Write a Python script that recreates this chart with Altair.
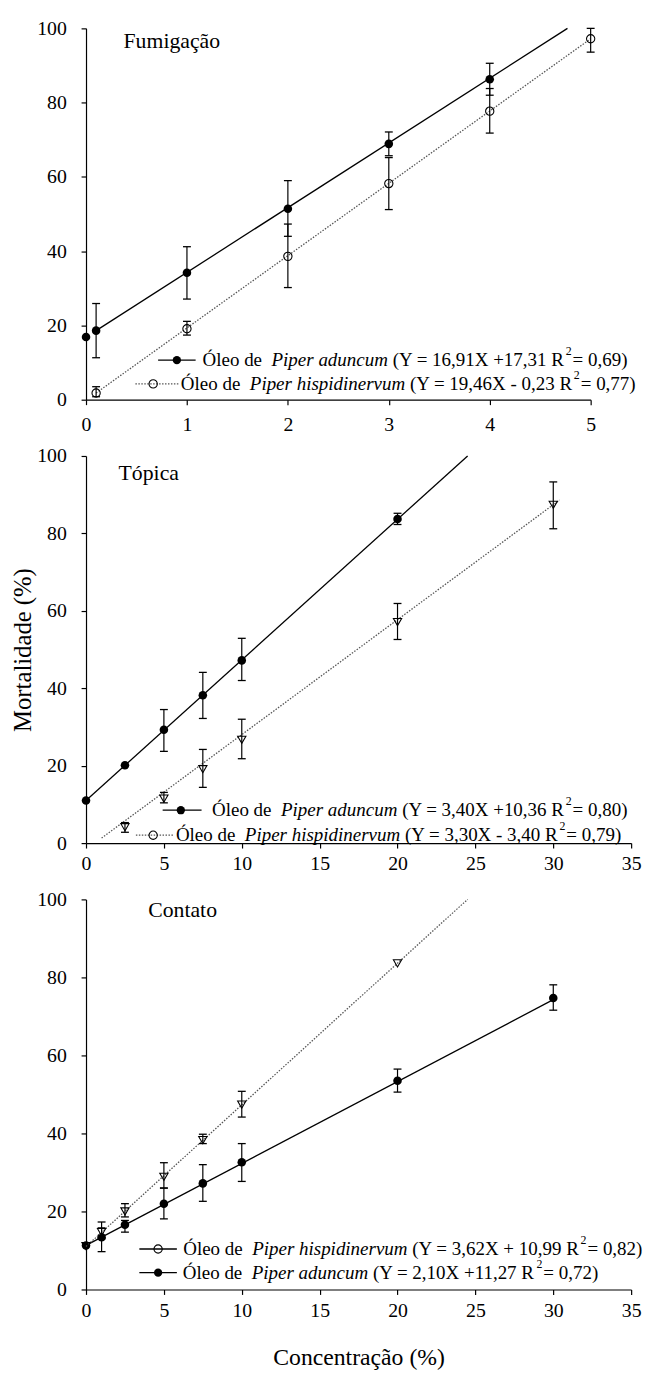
import altair as alt
import pandas as pd

FONT = "Liberation Serif"

# ---------------- data ----------------
# Fumigação
fum_adu_x = [0, 0.1, 1, 2, 3, 4]
fum_adu_y = [16.9, 18.6, 34.2, 51.4, 68.9, 86.3]
fum_adu_lo = [None, 11.3, 27.1, 44.0, 65.7, 82.0]
fum_adu_hi = [None, 25.9, 41.2, 59.0, 72.1, 90.6]
fum_his_x = [0.1, 1, 2, 3, 4, 5]
fum_his_y = [1.8, 19.1, 38.6, 58.2, 77.7, 97.2]
fum_his_lo = [0.8, 17.4, 30.2, 51.2, 71.8, 93.6]
fum_his_hi = [3.5, 21.1, 47.3, 65.2, 83.8, 100.0]
fum_adu_fit_x = [0.1, 4.77]
fum_adu_fit_y = [18.6, 100.0]
fum_his_fit_x = [0.1, 5.0]
fum_his_fit_y = [1.8, 97.2]

# Tópica
top_adu_x = [0, 2.5, 5, 7.5, 10, 20]
top_adu_y = [11.0, 20.1, 29.3, 38.2, 47.2, 83.7]
top_adu_lo = [None, None, 23.7, 32.2, 42.0, 82.3]
top_adu_hi = [None, None, 34.5, 44.1, 52.9, 85.2]
top_his_x = [2.5, 5, 7.5, 10, 20, 30]
top_his_y = [4.1, 11.5, 19.1, 26.7, 57.1, 87.4]
top_his_lo = [2.8, 10.4, 14.4, 21.8, 52.6, 81.2]
top_his_hi = [5.3, 13.1, 24.2, 32.0, 61.9, 93.3]
top_adu_fit_x = [0, 24.5]
top_adu_fit_y = [11.0, 100.0]
top_his_fit_x = [1.0, 30.4]
top_his_fit_y = [1.3, 88.6]

# Contato
con_his_x = [0, 1, 2.5, 5, 7.5, 10, 20]
con_his_y = [11.1, 14.7, 20.0, 28.9, 38.3, 47.4, 83.6]
con_his_lo = [None, 13.0, 18.6, 26.0, 37.4, 44.2, None]
con_his_hi = [None, 17.3, 22.0, 32.5, 39.8, 50.8, None]
con_adu_x = [0, 1, 2.5, 5, 7.5, 10, 20, 30]
con_adu_y = [11.3, 13.4, 16.6, 22.0, 27.2, 32.6, 53.5, 74.7]
con_adu_lo = [None, 9.7, 14.7, 18.1, 22.6, 27.7, 50.6, 71.6]
con_adu_hi = [None, 15.8, 17.7, 26.0, 32.0, 37.4, 56.5, 78.1]
con_his_fit_x = [0, 24.5]
con_his_fit_y = [11.0, 100.0]
con_adu_fit_x = [0, 30]
con_adu_fit_y = [11.3, 74.3]

y_ticks = [0, 20, 40, 60, 80, 100]
x_ticks_fum = [0, 1, 2, 3, 4, 5]
x_ticks_conc = [0, 5, 10, 15, 20, 25, 30, 35]

# ---------------- text width helper (Times metrics) ----------------
REG = {" ": 250, "(": 333, ")": 333, "=": 564, "+": 564, "-": 333, ",": 250,
       "X": 722, "Y": 722, "R": 667, "Ó": 722, "l": 278, "e": 444, "o": 500, "d": 500}
ITA = {"P": 611, "i": 278, "p": 500, "e": 444, "r": 389, " ": 250, "a": 500, "d": 500,
       "u": 500, "n": 500, "c": 444, "m": 722, "h": 500, "s": 389, "v": 444}


def tw(s, table, size):
    return sum(table.get(c, 500) for c in s) / 1000.0 * size


LEG_FS = 19.2
DUMMY = pd.DataFrame({"k": [0]})


def txt(s, x, y, size=LEG_FS, style="normal", align="left"):
    return alt.Chart(DUMMY).mark_text(
        align=align, baseline="middle", font=FONT, fontSize=size,
        fontStyle=style, color="black"
    ).encode(x=alt.value(x), y=alt.value(y), text=alt.value(s))


def legend_entry(ox, oy, y, lx1, lx2, mx, filled, dotted, tx, species, eq, r2):
    y = y - oy
    layers = []
    dash = {"strokeDash": [1.5, 1.5], "color": "#555"} if dotted else {"color": "black"}
    layers.append(alt.Chart(DUMMY).mark_rule(strokeWidth=1.3, **dash).encode(
        x=alt.value(lx1 - ox), x2=alt.value(lx2 - ox), y=alt.value(y)))
    layers.append(alt.Chart(DUMMY).mark_point(
        shape="circle", filled=filled, size=70, color="black", opacity=1, strokeWidth=1.1
    ).encode(x=alt.value(mx - ox), y=alt.value(y)))
    x = tx - ox
    layers.append(txt("Óleo de", x, y))
    x += tw("Óleo de  ", REG, LEG_FS)
    layers.append(txt(species, x, y, style="italic"))
    x += tw(species + " ", ITA, LEG_FS)
    layers.append(txt(eq, x, y))
    x += tw(eq, REG, LEG_FS)
    layers.append(txt("2", x + 1, y - 9, size=12))
    x += 8
    layers.append(txt(r2, x, y))
    return layers


def series(xs_, ys_, lo, hi, fx, fy, shape, filled, dotted, X, Y):
    pts = pd.DataFrame({"x": xs_, "y": ys_})
    err = pd.DataFrame({"x": xs_, "lo": lo, "hi": hi}).dropna()
    fit = pd.DataFrame({"x": fx, "y": fy})
    if dotted:
        line = alt.Chart(fit).mark_line(color="#555", strokeWidth=1.3, strokeDash=[1.5, 1.5])
    else:
        line = alt.Chart(fit).mark_line(color="black", strokeWidth=1.3)
    line = line.encode(x=X(), y=Y("y"))
    rule = alt.Chart(err).mark_rule(color="black", strokeWidth=1.2).encode(
        x=X(), y=Y("lo"), y2="hi")
    caplo = alt.Chart(err).mark_tick(orient="horizontal", size=8, thickness=1.3,
                                     color="black", opacity=1).encode(x=X(), y=Y("lo"))
    caphi = alt.Chart(err).mark_tick(orient="horizontal", size=8, thickness=1.3,
                                     color="black", opacity=1).encode(x=X(), y=Y("hi"))
    point = alt.Chart(pts).mark_point(
        shape=shape, filled=filled, size=75 if filled else 70, color="black",
        opacity=1, strokeWidth=1.1
    ).encode(x=X(), y=Y("y"))
    return [line, rule, caplo, caphi, point]


def make_xy(xmax, xticks, xtitle, ytitle, xlabpad):
    xs = alt.Scale(domain=[0, xmax], nice=False, zero=False)
    ys = alt.Scale(domain=[0, 100], nice=False)
    xax = alt.Axis(values=xticks, labelFlush=False, labelPadding=xlabpad, titlePadding=26,
                   titleFontSize=24)
    yax = alt.Axis(values=y_ticks, labelPadding=15, titlePadding=1)

    def X():
        if xtitle:
            return alt.X("x:Q", scale=xs, axis=xax, title=xtitle)
        return alt.X("x:Q", scale=xs, axis=xax, title=None)

    def Y(field):
        if ytitle:
            return alt.Y(field + ":Q", scale=ys, axis=yax, title=ytitle)
        return alt.Y(field + ":Q", scale=ys, axis=yax, title=None)

    return X, Y


# ---------------- Panel 1: Fumigação ----------------
W1, H1 = 511, 376
X, Y = make_xy(5, x_ticks_fum, None, None, 10)
ox, oy = 87, 20
p1_layers = []
p1_layers += series(fum_adu_x, fum_adu_y, fum_adu_lo, fum_adu_hi, fum_adu_fit_x, fum_adu_fit_y,
                    "circle", True, False, X, Y)
p1_layers += series(fum_his_x, fum_his_y, fum_his_lo, fum_his_hi, fum_his_fit_x, fum_his_fit_y,
                    "circle", False, True, X, Y)
p1_layers += legend_entry(ox, oy, 356, 160, 198, 179, True, False, 205,
                          "Piper aduncum", "(Y = 16,91X +17,31 R", "= 0,69)")
p1_layers += legend_entry(ox, oy, 380, 137, 181, 155, False, True, 183,
                          "Piper hispidinervum", "(Y = 19,46X - 0,23 R", "= 0,77)")
p1_layers.append(txt("Fumigação", 125 - ox, 33 - oy, size=22))
p1 = alt.layer(*p1_layers).properties(width=W1, height=H1)

# ---------------- Panel 2: Tópica ----------------
W2, H2 = 552, 392
X, Y = make_xy(35, x_ticks_conc, None, "Mortalidade (%)", 6)
ox, oy = 87, 453
p2_layers = []
p2_layers += series(top_adu_x, top_adu_y, top_adu_lo, top_adu_hi, top_adu_fit_x, top_adu_fit_y,
                    "circle", True, False, X, Y)
p2_layers += series(top_his_x, top_his_y, top_his_lo, top_his_hi, top_his_fit_x, top_his_fit_y,
                    "triangle-down", False, True, X, Y)
p2_layers += legend_entry(ox, oy, 811.7, 164.6, 204, 183, True, False, 214.6,
                          "Piper aduncum", "(Y = 3,40X +10,36 R", "= 0,80)")
p2_layers += legend_entry(ox, oy, 837, 137.5, 175, 155, False, True, 178,
                          "Piper hispidinervum", "(Y = 3,30X - 3,40 R", "= 0,79)")
p2_layers.append(txt("Tópica", 120 - ox, 470 - oy, size=22))
p2 = alt.layer(*p2_layers).properties(width=W2, height=H2)

# ---------------- Panel 3: Contato ----------------
W3, H3 = 552, 395
X, Y = make_xy(35, x_ticks_conc, "Concentração (%)", None, 6)
ox, oy = 87, 902
p3_layers = []
p3_layers += series(con_adu_x, con_adu_y, con_adu_lo, con_adu_hi, con_adu_fit_x, con_adu_fit_y,
                    "circle", True, False, X, Y)
p3_layers += series(con_his_x, con_his_y, con_his_lo, con_his_hi, con_his_fit_x, con_his_fit_y,
                    "triangle-down", False, True, X, Y)
p3_layers += legend_entry(ox, oy, 1256, 141, 179, 160, False, False, 185.4,
                          "Piper hispidinervum", "(Y = 3,62X + 10,99 R", "= 0,82)")
p3_layers += legend_entry(ox, oy, 1280, 141, 179, 160, True, False, 185,
                          "Piper aduncum", "(Y = 2,10X +11,27 R", "= 0,72)")
p3_layers.append(txt("Contato", 150 - ox, 913 - oy, size=22))
p3 = alt.layer(*p3_layers).properties(width=W3, height=H3)

chart = alt.vconcat(p1, p2, p3, spacing=57, bounds="flush").properties(
    padding={"left": 3, "top": 2, "right": 0, "bottom": 0}
).configure_view(stroke=None).configure_axis(
    domainColor="black", tickColor="black", labelColor="black", titleColor="black",
    labelFont=FONT, titleFont=FONT, labelFontSize=20, titleFontSize=25,
    titleFontWeight="normal", grid=False, tickSize=5, domainWidth=1.2, tickWidth=1.2
)

chart.save("out.html", embed_options={"renderer": "svg", "actions": False})
